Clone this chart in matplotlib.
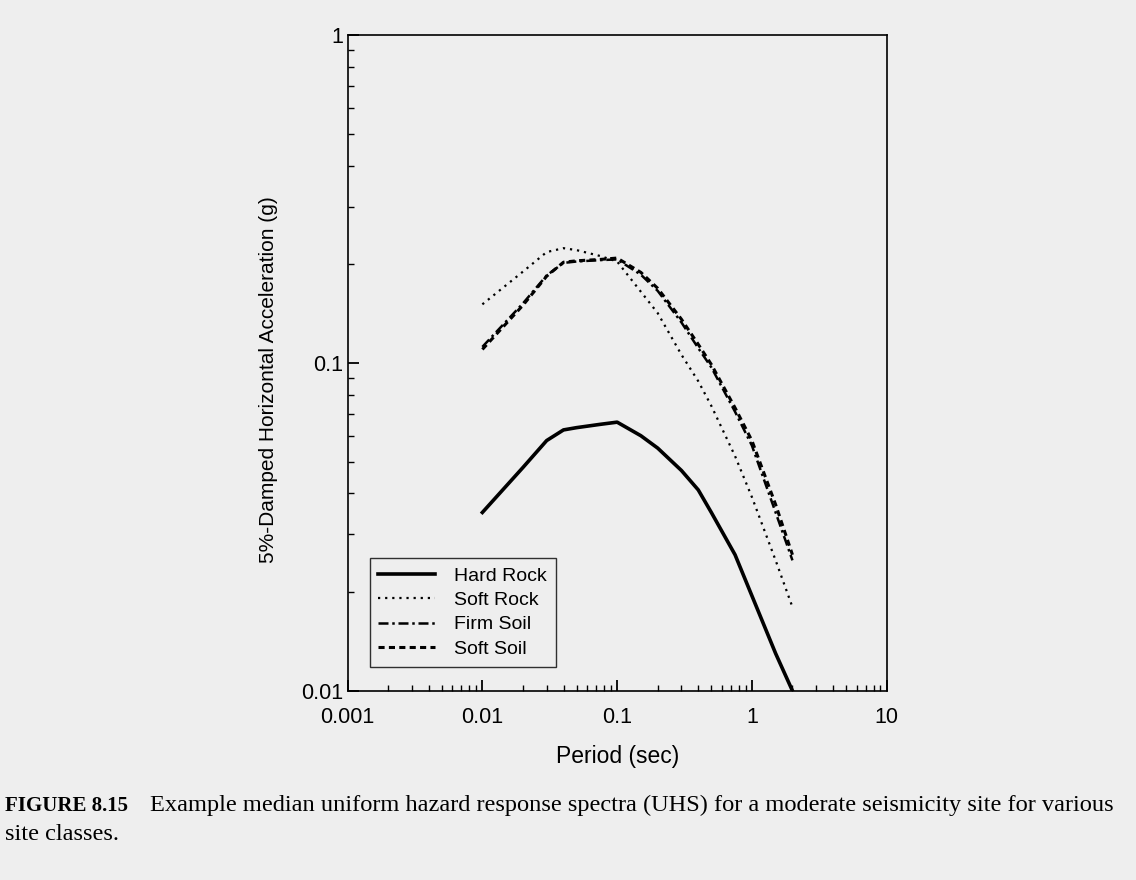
import matplotlib
matplotlib.use("Agg")
import matplotlib.pyplot as plt
from matplotlib.ticker import FixedLocator, FixedFormatter, LogLocator, NullFormatter

# periods (sec) and spectral accelerations (g)
period = [0.01, 0.02, 0.03, 0.04, 0.05, 0.075, 0.1, 0.15, 0.2, 0.3, 0.4, 0.5, 0.75, 1.0, 1.5, 2.0]
hard_rock = [0.035, 0.048, 0.058, 0.0625, 0.0635, 0.065, 0.066, 0.060, 0.055, 0.047, 0.041, 0.035, 0.026, 0.0195, 0.013, 0.010]
soft_rock = [0.151, 0.19, 0.218, 0.224, 0.221, 0.212, 0.204, 0.165, 0.142, 0.106, 0.088, 0.074, 0.052, 0.039, 0.025, 0.018]
firm_soil = [0.112, 0.152, 0.185, 0.202, 0.204, 0.206, 0.207, 0.186, 0.166, 0.133, 0.111, 0.097, 0.071, 0.056, 0.035, 0.025]
soft_soil = [0.110, 0.150, 0.184, 0.203, 0.205, 0.207, 0.209, 0.189, 0.169, 0.136, 0.114, 0.099, 0.073, 0.058, 0.037, 0.026]
series_names = ['Hard Rock', 'Soft Rock', 'Firm Soil', 'Soft Soil']

x_ticks = [0.001, 0.01, 0.1, 1, 10]
x_ticklabels = ['0.001', '0.01', '0.1', '1', '10']
y_ticks = [0.01, 0.1, 1]
y_ticklabels = ['0.01', '0.1', '1']

caption1 = 'Example median uniform hazard response spectra (UHS) for a moderate seismicity site for various'
caption2 = 'site classes.'

bg = '#eeeeee'
plt.rcParams['font.family'] = ['Liberation Sans', 'DejaVu Sans']

fig = plt.figure(figsize=(11.36, 8.8), dpi=100, facecolor=bg)
ax = fig.add_axes([0.306, 0.215, 0.4745, 0.745], facecolor=bg)

ax.plot(period, hard_rock, color='black', lw=2.6, ls='-', label=series_names[0])
ax.plot(period, soft_rock, color='black', lw=1.6, ls=(0, (1, 2.2)), label=series_names[1])
ax.plot(period, firm_soil, color='black', lw=1.8, ls=(0, (4, 1.5, 1, 1.5)), label=series_names[2])
ax.plot(period, soft_soil, color='black', lw=2.2, ls=(0, (2, 1.4)), label=series_names[3])

ax.set_xscale('log')
ax.set_yscale('log')
ax.set_xlim(0.001, 10)
ax.set_ylim(0.01, 1)

ax.xaxis.set_major_locator(FixedLocator(x_ticks))
ax.xaxis.set_major_formatter(FixedFormatter(x_ticklabels))
ax.yaxis.set_major_locator(FixedLocator(y_ticks))
ax.yaxis.set_major_formatter(FixedFormatter(y_ticklabels))
ax.xaxis.set_minor_locator(LogLocator(base=10, subs=range(2, 10), numticks=20))
ax.yaxis.set_minor_locator(LogLocator(base=10, subs=range(2, 10), numticks=20))
ax.xaxis.set_minor_formatter(NullFormatter())
ax.yaxis.set_minor_formatter(NullFormatter())

ax.tick_params(which='both', direction='in', top=False, right=False, labelsize=15.5)
ax.tick_params(which='major', length=8, width=1.3)
ax.tick_params(which='minor', length=4, width=1)
ax.tick_params(axis='x', which='major', pad=12)
ax.tick_params(axis='y', which='major', pad=3)
for s in ax.spines.values():
    s.set_linewidth(1.2)

ax.set_xlabel('Period (sec)', fontsize=16.5, labelpad=12)
ax.set_ylabel('5%-Damped Horizontal Acceleration (g)', fontsize=15)
ax.yaxis.set_label_coords(-0.13, 0.475)

leg = ax.legend(loc='lower left', bbox_to_anchor=(0.041, 0.037), fontsize=14,
                frameon=True, fancybox=False, edgecolor='black', facecolor=bg,
                handlelength=2.9, borderpad=0.45, labelspacing=0.35, handletextpad=1.0,
                borderaxespad=0)
leg.get_frame().set_linewidth(1.0)

fig.text(0.004, 0.078, 'FIGURE 8.15', fontsize=15, family='Liberation Serif', weight='bold', va='baseline')
fig.text(0.132, 0.078, caption1, fontsize=17.6, family='Liberation Serif', va='baseline')
fig.text(0.004, 0.046, caption2, fontsize=17.6, family='Liberation Serif', va='baseline')

fig.savefig('out.png', dpi=100, facecolor=bg)
